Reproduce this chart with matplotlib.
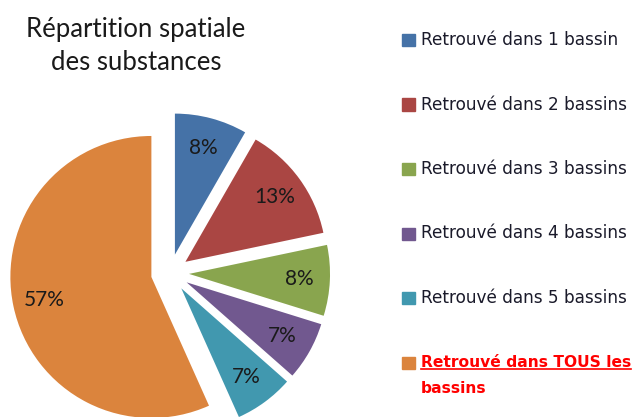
import matplotlib
matplotlib.use("Agg")
import matplotlib.pyplot as plt
from matplotlib.patches import Rectangle
from matplotlib.lines import Line2D

plt.rcParams['font.family'] = ['Lato', 'DejaVu Sans']

# data (share of substances, %)
labels = ["Retrouvé dans 1 bassin", "Retrouvé dans 2 bassins", "Retrouvé dans 3 bassins",
          "Retrouvé dans 4 bassins", "Retrouvé dans 5 bassins", "Retrouvé dans TOUS les bassins"]
values = [8.3, 13.4, 8.1, 6.7, 6.8, 56.7]
colors = ["#4572A7", "#AA4643", "#89A54E", "#71588F", "#4198AF", "#DB843D"]
title = "Répartition spatiale\ndes substances"

W, H = 636, 417
fig = plt.figure(figsize=(W / 100, H / 100), dpi=100)

# pie axes: 1 data unit = R pixels, centre at (cx, cy) from top-left
R, cx, cy = 141.0, 170.0, 273.0
ax = fig.add_axes([0, 0, 1, 1])
ax.pie(values, colors=colors, startangle=90, counterclock=False,
       explode=[0.135] * len(values), autopct='%1.0f%%', pctdistance=0.78,
       textprops=dict(fontsize=15, color='#1a1a1a'))
ax.set_xlim(-cx / R, (W - cx) / R)
ax.set_ylim(-(H - cy) / R, cy / R)
ax.axis('off')

fig.text(136 / W, 1 - 46 / H, title, ha='center', va='center', fontsize=18.5,
         color='#1a1a1a', linespacing=1.45)

# legend, drawn by hand
y0, step = 40, 64.5
leg_font = ['DejaVu Sans']
for i, (lab, col) in enumerate(zip(labels, colors)):
    y = y0 + i * step
    fig.patches.append(Rectangle((402 / W, 1 - (y + 6) / H), 13 / W, 12 / H,
                                 transform=fig.transFigure, color=col))
    if i < len(labels) - 1:
        fig.text(421 / W, 1 - y / H, lab, ha='left', va='center', fontsize=12.2,
                 color='#1a1a2a', family=leg_font)
    else:
        first, second = lab.rsplit(' ', 1)
        t1 = fig.text(421 / W, 1 - y / H, first, ha='left', va='center',
                      fontsize=11.2, color='#ff0000', fontweight='bold', family=leg_font)
        fig.text(421 / W, 1 - (y + 26) / H, second, ha='left', va='center',
                 fontsize=11.2, color='#ff0000', fontweight='bold', family=leg_font)
        fig.canvas.draw()
        bb = t1.get_window_extent().transformed(fig.transFigure.inverted())
        uy = bb.y0 + 1.5 / H
        fig.lines.append(Line2D([bb.x0, bb.x1], [uy, uy], lw=1.2,
                                color='#ff0000', transform=fig.transFigure))

fig.savefig("out.png", dpi=100)
